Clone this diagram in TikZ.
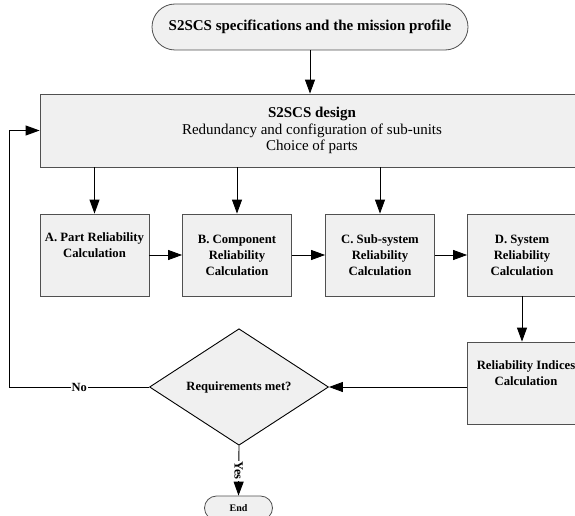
\documentclass[tikz,border=0pt]{standalone}
\usepackage{fontspec}
\setmainfont{Liberation Serif}
\usetikzlibrary{shapes.geometric,arrows.meta}
\definecolor{boxfill}{HTML}{F0F0F0}
\definecolor{boxline}{HTML}{505050}
\tikzset{
  flow/.style={draw=black, line width=0.9pt, -{Triangle[length=14pt,width=10pt]}},
  calcbox/.style={draw=boxline, line width=0.8pt, fill=boxfill, minimum width=109pt,
    minimum height=82pt, inner sep=0pt, align=center,
    font=\bfseries\fontsize{12.7}{16}\selectfont},
  termbox/.style={draw=boxline, line width=0.8pt, fill=boxfill, rounded corners=#1,
    inner sep=0pt, align=center},
  edgelabel/.style={fill=white, inner sep=1pt, font=\bfseries\fontsize{12.5}{14}\selectfont}
}
\newcommand{\bigfont}{\fontsize{15}{16.5}\selectfont}

\begin{document}
\begin{tikzpicture}[x=1pt, y=-1pt]
  \clip (0,0) rectangle (575,516);
  \fill[white] (0,0) rectangle (575,516);

  % start and design
  \node[termbox=23pt, minimum width=316pt, minimum height=46pt, font=\bfseries\bigfont]
    (spec) at (310,27) {S2SCS specifications and the mission profile};
  \node[draw=boxline, line width=0.8pt, fill=boxfill, minimum width=544pt, minimum height=73pt,
    inner sep=0pt, align=center, font=\bigfont] (design) at (312,130.5)
    {\textbf{S2SCS design}\\Redundancy and configuration of sub-units\\Choice of parts};

  % calculation chain
  \node[calcbox] (partA) at (94.5,255) {A. Part Reliability\\Calculation\\[3pt]};
  \node[calcbox] (compB) at (237,255) {B. Component\\Reliability\\Calculation};
  \node[calcbox] (subC) at (380,255) {C. Sub-system\\Reliability\\Calculation};
  \node[calcbox] (sysD) at (522,255) {D. System\\Reliability\\Calculation};
  \node[calcbox, minimum width=118pt] (indices) at (526,383)
    {Reliability Indices\\Calculation\\[3pt]};

  % decision
  \node[diamond, draw=black, line width=0.9pt, fill=boxfill, minimum width=179pt,
    minimum height=74pt, inner sep=0pt, font=\bfseries\fontsize{12.6}{14}\selectfont]
    (req) at (239,387) {Requirements met?};
  \node[termbox=12pt, minimum width=68pt, minimum height=24pt,
    font=\bfseries\fontsize{10}{12}\selectfont] (stop) at (238.5,508) {End};
  \coordinate (back) at (9.5,387);

  \draw[flow] (spec.south) -- (spec.south |- design.north);
  \foreach \b in {partA,compB,subC}
    \draw[flow] (\b.north |- design.south) -- (\b.north);
  \draw[flow] (partA.east) -- (compB.west);
  \draw[flow] (compB.east) -- (subC.west);
  \draw[flow] (subC.east) -- (sysD.west);
  \draw[flow] (sysD.south) -- (sysD.south |- indices.north);
  \draw[flow] (req.east -| indices.west) -- (req.east);
  \draw[flow] (req.west) -- node[edgelabel] {No} (back) |- (design.west);
  \draw[flow] (req.south) -- node[edgelabel, rotate=-90] {Yes} (stop.north);
\end{tikzpicture}
\end{document}
